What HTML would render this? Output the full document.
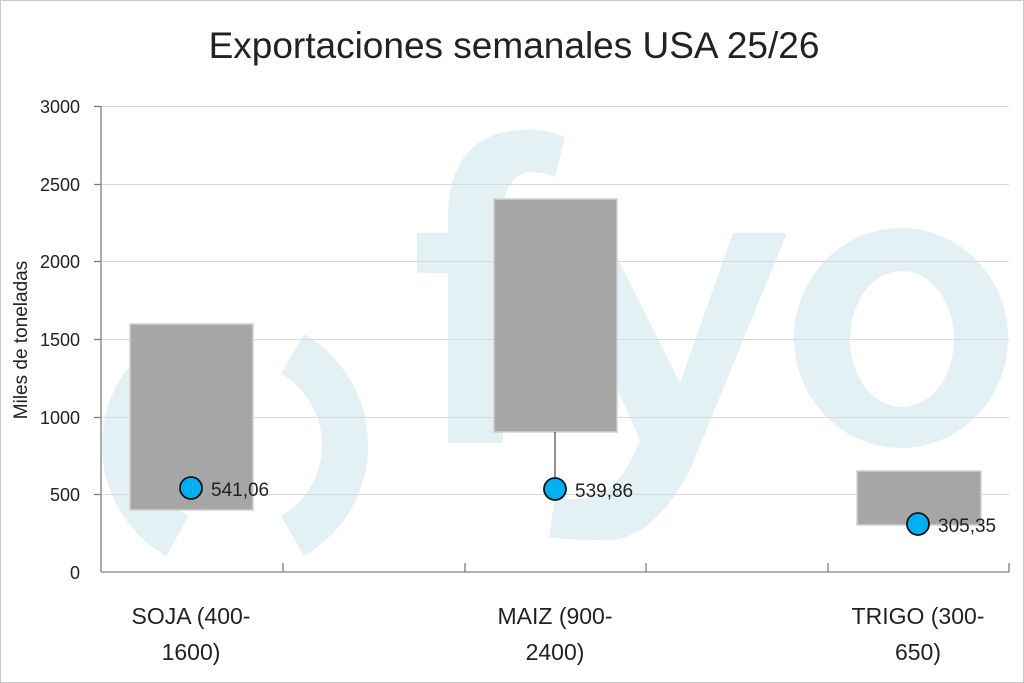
<!DOCTYPE html>
<html><head><meta charset="utf-8"><style>html,body{margin:0;padding:0;background:#fff}svg{display:block}text{font-family:"Liberation Sans",sans-serif;fill:#222}</style></head>
<body>
<svg width="1024" height="683" viewBox="0 0 1024 683" xmlns="http://www.w3.org/2000/svg">
<rect x="0.5" y="0.5" width="1023" height="682" fill="#fff" stroke="#c8c8c8"/>
<text x="514" y="58" font-size="37" text-anchor="middle">Exportaciones semanales USA 25/26</text>
<!-- watermark -->
<g fill="#e3f1f5" stroke="none">
<path d="M177.5 354 A105 105 0 0 0 177.5 536" fill="none" stroke="#e3f1f5" stroke-width="46"/>
<path d="M292.5 354 A105 105 0 0 1 292.5 536" fill="none" stroke="#e3f1f5" stroke-width="46"/>
<path d="M448 443 L503 443 L503 273 L560 273 L560 233 L503 233 L503 215 Q505 170 535 172 Q548 173 555 177 L565 137 Q545 128 519 130 Q450 135 448 215 L448 233 L417 233 L417 273 L448 273 Z"/>
<path d="M548 233 L605 233 L680 383 L733 233 L787 233 L690 470 Q650 545 600 540 Q570 540 549 537 L555 497 Q575 502 600 495 Q625 480 640 440 Z"/>
<path fill-rule="evenodd" d="M794 338 A107 110 0 1 0 1008 338 A107 110 0 1 0 794 338 Z M850 339 A52 68 0 1 0 954 339 A52 68 0 1 0 850 339 Z"/>
</g>
<!-- grid -->
<g stroke="#d9d9d9" stroke-width="1">
<line x1="101" y1="106.5" x2="1009" y2="106.5"/>
<line x1="101" y1="184.5" x2="1009" y2="184.5"/>
<line x1="101" y1="261.5" x2="1009" y2="261.5"/>
<line x1="101" y1="339.5" x2="1009" y2="339.5"/>
<line x1="101" y1="417.5" x2="1009" y2="417.5"/>
<line x1="101" y1="494.5" x2="1009" y2="494.5"/>
</g>
<g stroke="#808080" stroke-width="1.3">
<line x1="101" y1="106" x2="101" y2="572"/>
<line x1="94" y1="106.5" x2="101" y2="106.5"/>
<line x1="94" y1="184.5" x2="101" y2="184.5"/>
<line x1="94" y1="261.5" x2="101" y2="261.5"/>
<line x1="94" y1="339.5" x2="101" y2="339.5"/>
<line x1="94" y1="417.5" x2="101" y2="417.5"/>
<line x1="94" y1="494.5" x2="101" y2="494.5"/>
<line x1="101" y1="572" x2="1009" y2="572"/>
<line x1="283" y1="563" x2="283" y2="572"/>
<line x1="465" y1="563" x2="465" y2="572"/>
<line x1="646" y1="563" x2="646" y2="572"/>
<line x1="828" y1="563" x2="828" y2="572"/>
<line x1="1009" y1="563" x2="1009" y2="572"/>
</g>
<g font-size="18" text-anchor="end">
<text x="80" y="113">3000</text>
<text x="80" y="191">2500</text>
<text x="80" y="268">2000</text>
<text x="80" y="346">1500</text>
<text x="80" y="424">1000</text>
<text x="80" y="501">500</text>
<text x="80" y="579">0</text>
</g>
<text transform="translate(27,340) rotate(-90)" font-size="19" text-anchor="middle">Miles de toneladas</text>
<!-- boxes -->
<g fill="#a6a6a6" stroke="#d0d0d0" stroke-width="1.5">
<rect x="130" y="324" width="123" height="186"/>
<rect x="494" y="199" width="123" height="233"/>
<rect x="857" y="471" width="124" height="54"/>
</g>
<line x1="555" y1="432" x2="555" y2="478" stroke="#555" stroke-width="1.3"/>
<g fill="#00b0f0" stroke="#111" stroke-width="1.8">
<circle cx="191" cy="488" r="11"/>
<circle cx="555" cy="489" r="11"/>
<circle cx="918" cy="524" r="11"/>
</g>
<g font-size="19">
<text x="211" y="496">541,06</text>
<text x="575" y="497">539,86</text>
<text x="938" y="532">305,35</text>
</g>
<g font-size="23" text-anchor="middle">
<text x="191" y="624">SOJA (400-</text>
<text x="191" y="660">1600)</text>
<text x="555" y="624">MAIZ (900-</text>
<text x="555" y="660">2400)</text>
<text x="918" y="624">TRIGO (300-</text>
<text x="918" y="660">650)</text>
</g>
</svg>
</body></html>
